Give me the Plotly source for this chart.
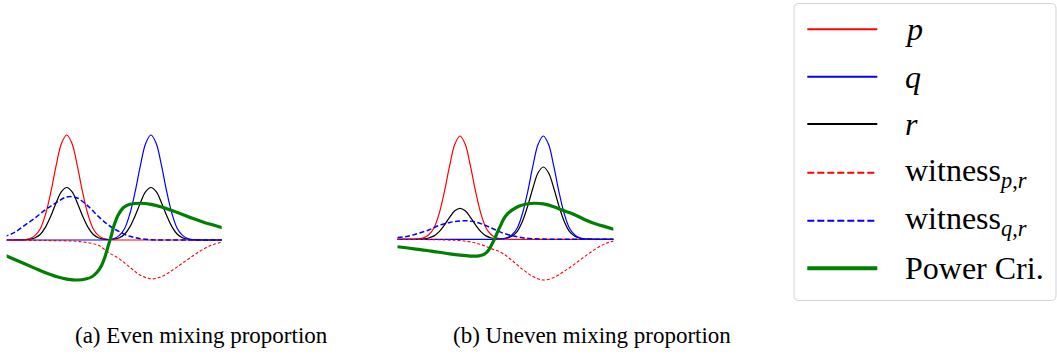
import plotly.graph_objects as go

# ---- data -------------------------------------------------------------
# Shared grid for the densities p, q, r
x_density = [0.25 * i for i in range(43)]  # 0 .. 10.5

p_density = [0, 0, 0, 0.001, 0.004, 0.014, 0.044, 0.11, 0.25, 0.46, 0.71, 0.92, 1.0,
             0.92, 0.71, 0.46, 0.25, 0.11, 0.044, 0.014, 0.004, 0.001,
             0, 0, 0, 0, 0, 0, 0, 0, 0, 0, 0, 0, 0, 0, 0, 0, 0, 0, 0, 0, 0]
q_density = [0, 0, 0, 0, 0, 0, 0, 0, 0, 0, 0, 0, 0, 0, 0, 0, 0, 0, 0,
             0.001, 0.004, 0.014, 0.044, 0.11, 0.25, 0.46, 0.71, 0.92, 1.0,
             0.92, 0.71, 0.46, 0.25, 0.11, 0.044, 0.014, 0.004, 0.001,
             0, 0, 0, 0, 0]
r_even = [0, 0, 0, 0.001, 0.002, 0.007, 0.022, 0.055, 0.125, 0.23, 0.355, 0.46, 0.5,
          0.46, 0.355, 0.23, 0.125, 0.055, 0.022, 0.008, 0.004, 0.008,
          0.022, 0.055, 0.125, 0.23, 0.355, 0.46, 0.5,
          0.46, 0.355, 0.23, 0.125, 0.055, 0.022, 0.007, 0.002, 0.001,
          0, 0, 0, 0, 0]
r_uneven = [0, 0, 0, 0, 0.001, 0.004, 0.013, 0.033, 0.075, 0.138, 0.213, 0.276, 0.30,
            0.276, 0.213, 0.138, 0.075, 0.033, 0.013, 0.005, 0.004, 0.010,
            0.031, 0.077, 0.175, 0.322, 0.497, 0.644, 0.70,
            0.644, 0.497, 0.322, 0.175, 0.077, 0.031, 0.010, 0.003, 0.001,
            0, 0, 0, 0, 0]

# Grid for the witness functions
x_witness = [0.5 * i for i in range(22)]  # 0 .. 10.5

witness_pr_even = [-0.002, -0.002, -0.003, -0.004, -0.005, -0.006, -0.008, -0.012,
                   -0.025, -0.05, -0.12, -0.18, -0.26, -0.335, -0.37, -0.35,
                   -0.29, -0.22, -0.15, -0.085, -0.04, -0.017]
witness_qr_even = [0.03, 0.07, 0.14, 0.21, 0.29, 0.355, 0.41, 0.40, 0.325, 0.225,
                   0.14, 0.08, 0.035, 0.013, 0.003, 0, 0, 0, 0, 0, 0, 0]
witness_pr_uneven = [0, -0.001, -0.002, -0.003, -0.005, -0.008, -0.012, -0.025,
                     -0.05, -0.09, -0.13, -0.205, -0.29, -0.36, -0.394, -0.37,
                     -0.31, -0.24, -0.165, -0.095, -0.04, -0.012]
witness_qr_uneven = [0.017, 0.03, 0.058, 0.09, 0.135, 0.163, 0.178, 0.176, 0.152, 0.11,
                     0.065, 0.035, 0.015, 0.006, 0.002, 0, 0, 0, 0, 0, 0, 0]

# Power criterion curves
x_power_even = [0, 0.5, 1.0, 1.5, 2.0, 2.5, 3.0, 3.5, 3.9, 4.2, 4.45, 4.65, 4.8, 4.95,
                5.1, 5.25, 5.45, 5.7, 6.0, 6.5, 7.0, 7.5, 8.0, 8.5, 9.0, 9.5, 10.0, 10.5]
power_even = [-0.139, -0.183, -0.227, -0.27, -0.312, -0.348, -0.372, -0.381, -0.372,
              -0.35, -0.305, -0.245, -0.17, -0.07, 0.03, 0.14, 0.24, 0.31, 0.34, 0.35,
              0.34, 0.315, 0.28, 0.243, 0.204, 0.17, 0.14, 0.11]
x_power_uneven = [0, 0.5, 1.0, 1.5, 2.0, 2.5, 3.0, 3.5, 3.9, 4.15, 4.35, 4.5, 4.65, 4.8,
                  4.95, 5.1, 5.3, 5.55, 5.85, 6.2, 6.6, 7.0, 7.5, 8.0, 8.5, 9.0, 9.5,
                  10.0, 10.5]
power_uneven = [-0.072, -0.084, -0.098, -0.111, -0.125, -0.141, -0.154, -0.162, -0.161,
                -0.145, -0.11, -0.06, 0.0, 0.07, 0.135, 0.197, 0.25, 0.29, 0.322,
                0.342, 0.349, 0.343, 0.316, 0.276, 0.238, 0.19, 0.15, 0.12, 0.09]

captions = ["(a) Even mixing proportion", "(b) Uneven mixing proportion"]
legend_labels = ["p", "q", "r",
                 "witness<sub><i>p</i>,<i>r</i></sub>",
                 "witness<sub><i>q</i>,<i>r</i></sub>",
                 "Power Cri."]
legend_italic = [True, True, True, False, False, False]

# ---- styling ----------------------------------------------------------
W, H = 1057, 356
RED, BLUE, BLACK, GREEN = "#ff0000", "#0000ff", "#000000", "#008000"
SERIF = "Liberation Serif, DejaVu Serif, serif"

panels = [
    dict(r=r_even, wpr=witness_pr_even, wqr=witness_qr_even,
         xp=x_power_even, pw=power_even, xa="x", ya="y"),
    dict(r=r_uneven, wpr=witness_pr_uneven, wqr=witness_qr_uneven,
         xp=x_power_uneven, pw=power_uneven, xa="x2", ya="y2"),
]

fig = go.Figure()
for pan in panels:
    common = dict(xaxis=pan["xa"], yaxis=pan["ya"], mode="lines",
                  showlegend=False, hoverinfo="skip")
    fig.add_trace(go.Scatter(x=x_density, y=pan["r"],
                             line=dict(color=BLACK, width=1.2, shape="spline"), **common))
    fig.add_trace(go.Scatter(x=x_density, y=p_density,
                             line=dict(color=RED, width=1.2, shape="spline"), **common))
    fig.add_trace(go.Scatter(x=x_density, y=q_density,
                             line=dict(color=BLUE, width=1.2, shape="spline"), **common))
    fig.add_trace(go.Scatter(x=x_witness, y=pan["wpr"],
                             line=dict(color=RED, width=1.1, dash="3px,2px",
                                       shape="spline"), **common))
    fig.add_trace(go.Scatter(x=x_witness, y=pan["wqr"],
                             line=dict(color=BLUE, width=1.5, dash="5px,2.5px",
                                       shape="spline"), **common))
    fig.add_trace(go.Scatter(x=pan["xp"], y=pan["pw"],
                             line=dict(color=GREEN, width=3.2, shape="spline"), **common))

hidden = dict(visible=False, showgrid=False, zeroline=False, fixedrange=True)
fig.update_layout(
    width=W, height=H,
    margin=dict(l=0, r=0, t=0, b=0),
    paper_bgcolor="white", plot_bgcolor="white",
    showlegend=False,
    xaxis=dict(domain=[6.7 / W, 221.7 / W], range=[0.15, 10.36], **hidden),
    yaxis=dict(domain=[1 - 292.5 / H, 1 - 124.5 / H], range=[-0.5, 1.1], **hidden),
    xaxis2=dict(domain=[396.7 / W, 613.3 / W], range=[-0.04, 10.36], **hidden),
    yaxis2=dict(domain=[1 - 290.95 / H, 1 - 125.67 / H], range=[-0.5, 1.1], **hidden),
)

# Sub-figure captions
for cx, text in zip([201, 592], captions):
    fig.add_annotation(x=cx / W, y=1 - 335 / H, xref="paper", yref="paper",
                       text=text, showarrow=False, xanchor="center", yanchor="middle",
                       font=dict(family=SERIF, size=23, color="black"))

# Legend box with rounded corners
x0, x1 = 794 / W, 1056 / W
yt, yb = 1 - 3.5 / H, 1 - 300.5 / H
rx, ry = 5 / W, 5 / H
box = (f"M {x0 + rx},{yt} L {x1 - rx},{yt} Q {x1},{yt} {x1},{yt - ry} "
       f"L {x1},{yb + ry} Q {x1},{yb} {x1 - rx},{yb} L {x0 + rx},{yb} "
       f"Q {x0},{yb} {x0},{yb + ry} L {x0},{yt - ry} Q {x0},{yt} {x0 + rx},{yt} Z")
fig.add_shape(type="path", path=box, xref="paper", yref="paper",
              line=dict(color="#d4d4d4", width=1), fillcolor="rgba(255,255,255,0.8)")

legend_styles = [
    dict(color=RED, width=2, dash="solid"),
    dict(color=BLUE, width=2, dash="solid"),
    dict(color=BLACK, width=2, dash="solid"),
    dict(color=RED, width=2, dash="7px,3px"),
    dict(color=BLUE, width=2, dash="7px,3px"),
    dict(color=GREEN, width=4, dash="solid"),
]
row_y = [29.3, 76.7, 124.0, 172.7, 220.7, 268.3]
for yy, lab, ital, sty in zip(row_y, legend_labels, legend_italic, legend_styles):
    fig.add_shape(type="line", xref="paper", yref="paper",
                  x0=807.3 / W, x1=877.3 / W, y0=1 - yy / H, y1=1 - yy / H, line=sty)
    fig.add_annotation(x=903 / W, y=1 - yy / H, xref="paper", yref="paper",
                       text=lab, showarrow=False, xanchor="left", yanchor="middle",
                       font=dict(family=SERIF, size=32, color="black",
                                 style="italic" if ital else "normal"))

fig.write_html("out.html")
